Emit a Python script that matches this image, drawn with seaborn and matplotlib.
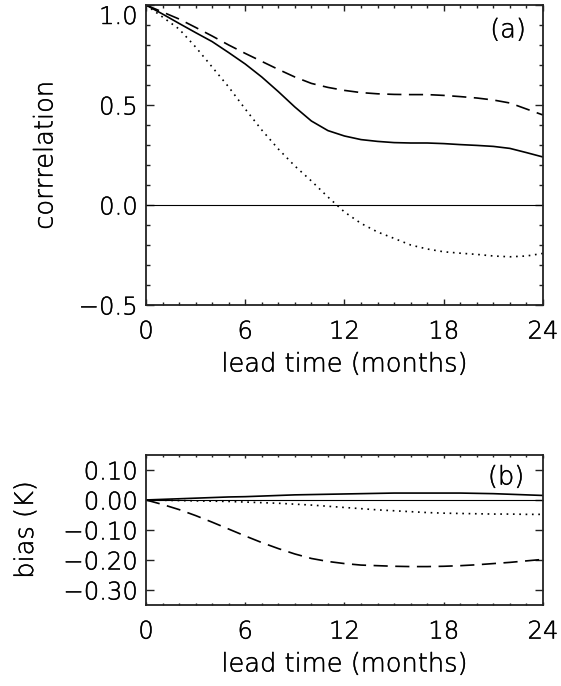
import numpy as np
import pandas as pd
import seaborn as sns
import matplotlib
matplotlib.use("Agg")
import matplotlib.pyplot as plt
import matplotlib.patheffects as pe
from matplotlib.ticker import FixedLocator, MultipleLocator

# --- data (monthly lead times 0..24) ---
lead = list(range(25))

corr_solid = [1.00, 0.955, 0.908, 0.862, 0.817, 0.762, 0.705, 0.64, 0.567, 0.49,
              0.42, 0.372, 0.345, 0.327, 0.318, 0.312, 0.31, 0.31, 0.307, 0.302,
              0.298, 0.293, 0.283, 0.262, 0.24]
corr_dashed = [1.00, 0.965, 0.93, 0.888, 0.845, 0.80, 0.758, 0.718, 0.678, 0.64,
               0.608, 0.588, 0.573, 0.562, 0.556, 0.553, 0.552, 0.552, 0.548, 0.542,
               0.535, 0.525, 0.51, 0.48, 0.45]
corr_dotted = [1.00, 0.94, 0.88, 0.79, 0.69, 0.59, 0.48, 0.375, 0.28, 0.195,
               0.12, 0.04, -0.035, -0.092, -0.135, -0.167, -0.20, -0.22, -0.234, -0.241,
               -0.247, -0.255, -0.259, -0.255, -0.242]

bias_solid = [0.0, 0.002, 0.004, 0.006, 0.008, 0.010, 0.011, 0.013, 0.015, 0.017,
              0.018, 0.019, 0.020, 0.021, 0.022, 0.023, 0.023, 0.023, 0.023, 0.023,
              0.022, 0.021, 0.019, 0.017, 0.015]
bias_dotted = [0.0, -0.001, -0.002, -0.003, -0.004, -0.005, -0.007, -0.009, -0.011, -0.014,
               -0.017, -0.021, -0.025, -0.029, -0.033, -0.036, -0.039, -0.042, -0.044, -0.045,
               -0.046, -0.047, -0.047, -0.048, -0.048]
bias_dashed = [0.0, -0.015, -0.032, -0.052, -0.074, -0.097, -0.12, -0.142, -0.162, -0.18,
               -0.195, -0.205, -0.212, -0.217, -0.219, -0.221, -0.222, -0.222, -0.221, -0.219,
               -0.216, -0.212, -0.208, -0.203, -0.198]

corr_ticks = [-0.5, 0.0, 0.5, 1.0]
corr_labels = ['\u22120.5', '0.0', '0.5', '1.0']
bias_ticks = [-0.3, -0.2, -0.1, 0.0, 0.1]
bias_labels = ['\u22120.30', '\u22120.20', '\u22120.10', '0.00', '0.10']
lead_ticks = [0, 6, 12, 18, 24]

sns.set_style("ticks")
plt.rcParams['font.family'] = ['DejaVu Sans']
plt.rcParams['font.weight'] = 'light'
plt.rcParams['text.color'] = 'black'
plt.rcParams['axes.labelcolor'] = 'black'
plt.rcParams['axes.labelweight'] = 'light'
plt.rcParams['xtick.color'] = '#222222'
plt.rcParams['ytick.color'] = '#222222'
plt.rcParams['xtick.labelcolor'] = 'black'
plt.rcParams['ytick.labelcolor'] = 'black'

TICK_FS = 17.5
LABEL_FS = 18.5
DASHED = (0, (8.5, 4.5))
DOTTED = (0, (1, 2.8))
INK = '#222222'
# thicken the extra-light glyphs a little
THICK = [pe.withStroke(linewidth=0.3, foreground='black')]

fig = plt.figure(figsize=(5.61, 6.86), dpi=100)
ax_a = fig.add_axes([0.2602, 0.5554, 0.7077, 0.4373])
ax_b = fig.add_axes([0.2602, 0.1181, 0.7077, 0.2187])


def draw(ax, ys, styles):
    for y, ls in zip(ys, styles):
        sns.lineplot(x=lead, y=y, ax=ax, color='black', linewidth=1.2,
                     linestyle=ls, dash_capstyle='butt')
    ax.axhline(0.0, color='black', linewidth=0.8)
    ax.set_xlim(0, 24)
    ax.xaxis.set_major_locator(FixedLocator(lead_ticks))
    ax.xaxis.set_minor_locator(MultipleLocator(1))
    ax.set_xticklabels([str(t) for t in lead_ticks])
    ax.set_xlabel('lead time (months)', fontsize=LABEL_FS)
    for s in ax.spines.values():
        s.set_linewidth(1.3)
        s.set_color(INK)
    ax.tick_params(which='both', direction='in', top=True, right=True,
                   width=1.0, labelsize=TICK_FS)
    ax.tick_params(axis='x', which='both', pad=10.5)
    ax.tick_params(axis='y', which='both', pad=6)


# panel (a): correlation
draw(ax_a, [corr_solid, corr_dashed, corr_dotted], ['-', DASHED, DOTTED])
ax_a.set_ylim(-0.5, 1.0)
ax_a.yaxis.set_major_locator(FixedLocator(corr_ticks))
ax_a.yaxis.set_minor_locator(MultipleLocator(0.1))
ax_a.set_yticklabels(corr_labels)
ax_a.get_yticklabels()[-1].set_va('top')
ax_a.set_ylabel('corrrelation', fontsize=LABEL_FS)
ax_a.tick_params(axis='y', which='major', length=5.8)
ax_a.tick_params(axis='y', which='minor', length=2.9)
ax_a.tick_params(axis='x', which='major', length=4.3)
ax_a.tick_params(axis='x', which='minor', length=2.2)
ax_a.yaxis.set_label_coords(-0.223, 0.5)
ax_a.xaxis.set_label_coords(0.5, -0.155)
ax_a.text(0.912, 0.917, '(a)', transform=ax_a.transAxes, ha='center', va='center',
          fontsize=LABEL_FS)

# panel (b): bias
draw(ax_b, [bias_solid, bias_dashed, bias_dotted], ['-', DASHED, DOTTED])
ax_b.set_ylim(-0.35, 0.15)
ax_b.yaxis.set_major_locator(FixedLocator(bias_ticks))
ax_b.set_yticklabels(bias_labels)
ax_b.set_ylabel('bias (K)', fontsize=LABEL_FS)
ax_b.tick_params(axis='y', which='major', length=5.8)
ax_b.tick_params(axis='x', which='major', length=2.2)
ax_b.tick_params(axis='x', which='minor', length=1.1)
ax_b.yaxis.set_label_coords(-0.272, 0.5)
ax_b.xaxis.set_label_coords(0.5, -0.31)
ax_b.text(0.907, 0.853, '(b)', transform=ax_b.transAxes, ha='center', va='center',
          fontsize=LABEL_FS)

for ax in (ax_a, ax_b):
    for t in ax.texts + ax.get_xticklabels() + ax.get_yticklabels() + \
            [ax.xaxis.label, ax.yaxis.label]:
        t.set_path_effects(THICK)

fig.savefig('out.png', dpi=100)
